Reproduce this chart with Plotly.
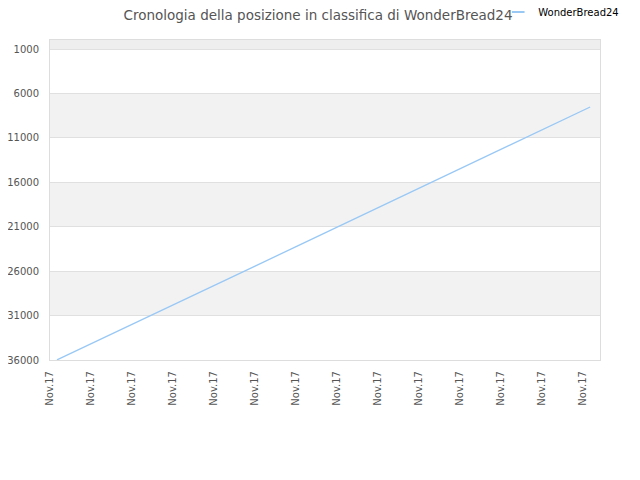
import plotly.graph_objects as go

# posizione in classifica
giorni = [0.17, 1, 2, 3, 4, 5, 6, 7, 8, 9, 10, 11, 12, 13, 13.17]
posizioni = [35990, 34190, 32000, 29810, 27620, 25430, 23240, 21050,
             18860, 16670, 14480, 12290, 10100, 7910, 7530]
tick_pos = list(range(14))
tick_lab = ["Nov.17"] * 14
y_ticks = [1000, 6000, 11000, 16000, 21000, 26000, 31000, 36000]
nome = "WonderBread24"
colore = "#99c8f5"

fig = go.Figure()
fig.add_trace(go.Scatter(x=giorni, y=posizioni, mode="lines", name=nome,
                         line=dict(color=colore, width=1.3), showlegend=False))
# voce di legenda con simbolo corto
fig.add_trace(go.Scatter(x=[None], y=[None], mode="markers", name=nome,
                         marker=dict(symbol="line-ew-open", size=9, color=colore,
                                     line=dict(color=colore, width=2))))

# bande alternate di sfondo
bands = [(0, 1000, "#eeeeee")]
for i in range(len(y_ticks) - 1):
    if i % 2 == 1:
        bands.append((y_ticks[i], y_ticks[i + 1], "#f2f2f2"))
for y0, y1, c in bands:
    fig.add_shape(type="rect", xref="paper", yref="y", x0=0, x1=1, y0=y0, y1=y1,
                  fillcolor=c, line_width=0, layer="below")

fig.update_layout(
    width=640, height=480,
    margin=dict(l=42, r=48, t=32, b=128, autoexpand=False),
    paper_bgcolor="white", plot_bgcolor="white",
    font=dict(family="DejaVu Sans", size=10, color="#555555"),
    title=dict(text="Cronologia della posizione in classifica di WonderBread24",
               x=0.4844, xanchor="center", y=0.995, yanchor="top",
               pad=dict(t=0, b=0), font=dict(size=13.5, color="#555555")),
    legend=dict(x=0.766, y=0.9917, xref="container", yref="container",
                xanchor="left", yanchor="middle",
                font=dict(size=10, color="#000000", family="DejaVu Sans"),
                itemwidth=30, bgcolor="rgba(0,0,0,0)"),
    showlegend=True,
)
fig.update_xaxes(range=[0, 13.41], tickvals=tick_pos, ticktext=tick_lab, tickangle=-90,
                 showgrid=False, zeroline=False, showline=True, linecolor="#dddddd",
                 mirror=True, ticks="", automargin=False, ticklabelstandoff=6,
                 tickfont=dict(size=10, color="#555555"))
fig.update_yaxes(range=[36000, -13], tickvals=y_ticks, tickformat="d", showgrid=True,
                 gridcolor="#e0e0e0", zeroline=False, showline=True, linecolor="#dddddd",
                 mirror=True, ticks="", automargin=False, ticklabelstandoff=8,
                 tickfont=dict(size=10, color="#555555"))

fig.write_html("out.html")
